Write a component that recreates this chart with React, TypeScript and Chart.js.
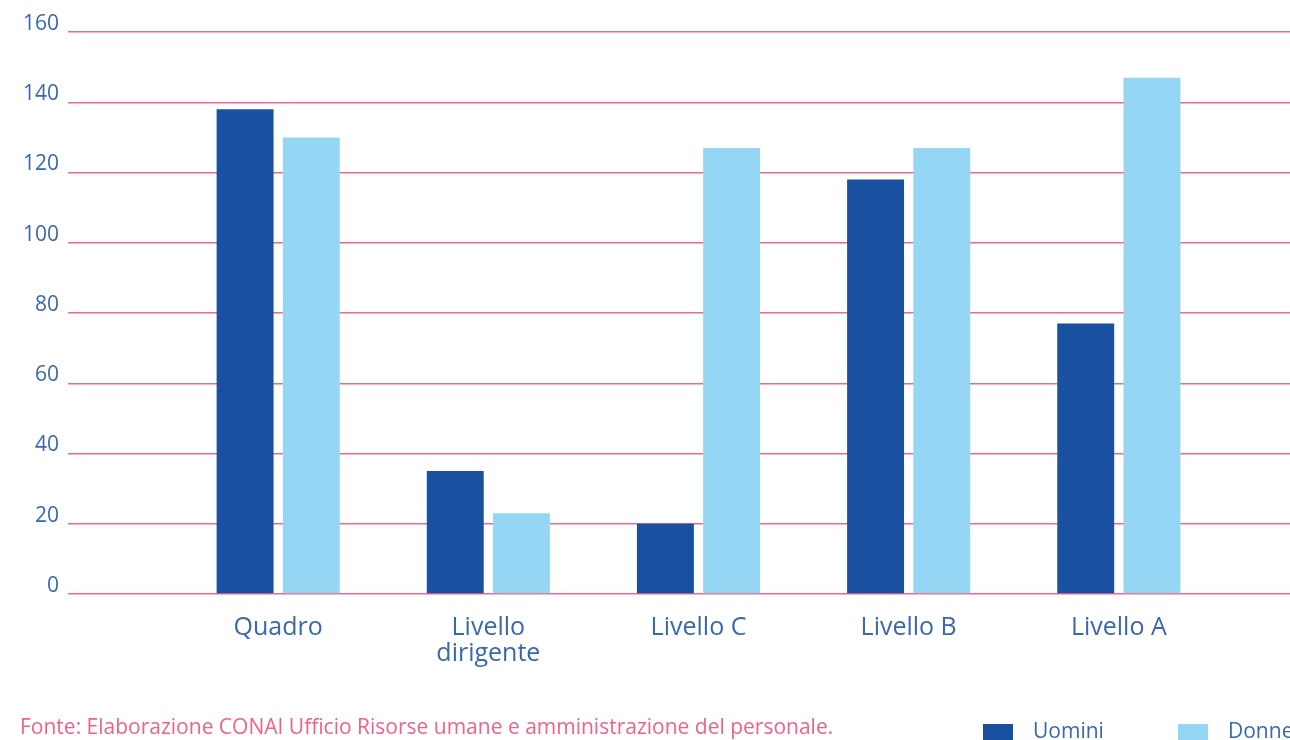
import React, { useEffect, useRef } from "react";
import { Chart, registerables } from "chart.js";

Chart.register(...registerables);

const categories: (string | string[])[] = ["Quadro", ["Livello", "dirigente"], "Livello C", "Livello B", "Livello A"];
const uomini: number[] = [138, 35, 20, 118, 77];
const donne: number[] = [130, 23, 127, 127, 147];
const yTicks: number[] = [0, 20, 40, 60, 80, 100, 120, 140, 160];
const seriesNames: string[] = ["Uomini", "Donne"];
const sourceNote = "Fonte: Elaborazione CONAI Ufficio Risorse umane e amministrazione del personale.";

const DARK = "#1a50a0";
const LIGHT = "#96d6f5";
const GRID = "#f2678b";
const TEXT = "#3a68ad";
const FONT = "'Open Sans', Lato, sans-serif";

export default function App() {
  const ref = useRef<HTMLCanvasElement | null>(null);

  useEffect(() => {
    if (!ref.current) return;
    const labels = ["", ...categories, ""];
    const chart = new Chart(ref.current, {
      type: "bar",
      data: {
        labels,
        datasets: [
          { label: seriesNames[0], data: [null, ...uomini, null], backgroundColor: DARK, borderWidth: 0 },
          { label: seriesNames[1], data: [null, ...donne, null], backgroundColor: LIGHT, borderWidth: 0 },
        ],
      },
      options: {
        responsive: false,
        animation: false,
        datasets: { bar: { categoryPercentage: 0.63, barPercentage: 0.86 } },
        layout: { padding: { left: 14, right: 2, top: 32, bottom: 60 } },
        plugins: { legend: { display: false }, tooltip: { enabled: false } },
        scales: {
          x: {
            offset: false,
            grid: { display: false, offset: false },
            border: { display: false },
            ticks: {
              color: TEXT,
              font: { family: FONT, size: 25, lineHeight: 1.04 },
              padding: 13,
              autoSkip: false,
              maxRotation: 0,
            },
          },
          y: {
            min: yTicks[0],
            max: yTicks[yTicks.length - 1],
            afterBuildTicks: (scale: any) => {
              scale.ticks = yTicks.map((v) => ({ value: v }));
            },
            grid: { color: GRID, lineWidth: 1.5, drawTicks: false },
            border: { display: false },
            ticks: {
              color: TEXT,
              font: { family: FONT, size: 21 },
              padding: 9,
              labelOffset: -8,
            },
          },
        },
      },
    });
    return () => chart.destroy();
  }, []);

  const legendItem = (name: string, color: string, left: number) => (
    <div key={name} style={{ position: "absolute", left, top: 714, display: "flex", alignItems: "center" }}>
      <div style={{ width: 30, height: 22, background: color, marginTop: 10 }} />
      <span style={{ marginLeft: 20, fontFamily: FONT, fontSize: 21, color: TEXT, whiteSpace: "nowrap" }}>{name}</span>
    </div>
  );

  return (
    <div style={{ position: "absolute", left: 0, top: 0, width: 1290, height: 740, overflow: "hidden", background: "#fff" }}>
      <canvas ref={ref} width={1342} height={740} style={{ position: "absolute", left: 0, top: 0 }} />
      <div
        style={{
          position: "absolute",
          left: 20,
          top: 712,
          fontFamily: FONT,
          fontSize: 21,
          color: "#f0628a",
          whiteSpace: "nowrap",
        }}
      >
        {sourceNote}
      </div>
      {legendItem(seriesNames[0], DARK, 983)}
      {legendItem(seriesNames[1], LIGHT, 1178)}
    </div>
  );
}
